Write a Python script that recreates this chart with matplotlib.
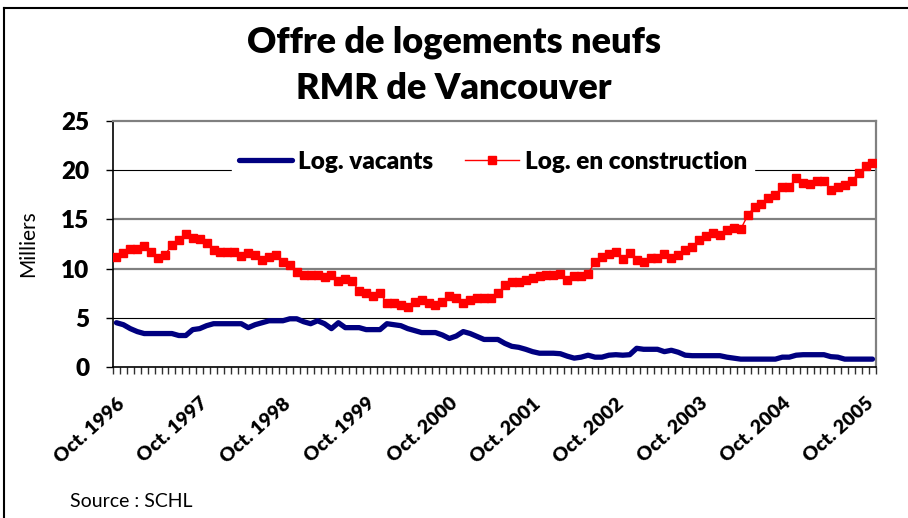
import matplotlib
matplotlib.use("Agg")
import matplotlib.pyplot as plt
from matplotlib.lines import Line2D

# monthly data, Oct. 1996 onward (thousands of units)
vacants = [
    4.5, 4.3, 3.9, 3.6, 3.4, 3.4, 3.4, 3.4, 3.4, 3.2, 3.2, 3.8,
    3.9, 4.2, 4.4, 4.4, 4.4, 4.4, 4.4, 4.0, 4.3, 4.5, 4.7, 4.7,
    4.7, 4.9, 4.9, 4.6, 4.4, 4.7, 4.4, 3.9, 4.5, 4.0, 4.0, 4.0,
    3.8, 3.8,
    3.8, 4.4, 4.3, 4.2, 3.9, 3.7, 3.5, 3.5, 3.5, 3.25, 2.9, 3.15,
    3.6, 3.4, 3.1, 2.8, 2.8, 2.8, 2.4, 2.1, 2.0, 1.8, 1.56, 1.4,
    1.4, 1.4, 1.35, 1.1, 0.9, 1.0, 1.2, 1.0, 1.0, 1.2, 1.25, 1.2,
    1.25,
    1.9, 1.8, 1.8, 1.8, 1.56, 1.7, 1.5, 1.2, 1.15, 1.15, 1.15, 1.15,
    1.15, 1.0, 0.9, 0.8, 0.8, 0.8, 0.8, 0.8, 0.8, 1.0, 1.0, 1.2,
    1.25, 1.25, 1.25, 1.25, 1.05, 1.0, 0.8, 0.8, 0.8, 0.8, 0.8,
]
construction = [
    11.2, 11.6, 12.0, 12.0, 12.3, 11.7, 11.1, 11.4, 12.4, 12.9, 13.5, 13.1,
    13.0, 12.6, 11.9, 11.7, 11.7, 11.7, 11.3, 11.6, 11.4, 10.9, 11.2, 11.4,
    10.7, 10.4, 9.7, 9.3, 9.3, 9.3, 9.1, 9.3, 8.7, 8.9, 8.7, 7.7,
    7.5, 7.2,
    7.5, 6.5, 6.5, 6.3, 6.1, 6.6, 6.8, 6.5, 6.3, 6.6, 7.2, 7.0,
    6.5, 6.8, 7.0, 7.0, 7.0, 7.5, 8.3, 8.6, 8.6, 8.8, 9.0, 9.2,
    9.4, 9.4, 9.5, 8.8, 9.2, 9.2, 9.5, 10.7, 11.2, 11.5, 11.7, 11.0,
    11.6,
    10.9, 10.7, 11.1, 11.1, 11.5, 11.1, 11.4, 11.9, 12.2, 12.9, 13.3, 13.6,
    13.4, 13.9, 14.1, 14.0, 15.4, 16.3, 16.6, 17.2, 17.5, 18.3, 18.3, 19.2,
    18.7, 18.6, 18.9, 18.9, 18.0, 18.3, 18.5, 18.9, 19.7, 20.4, 20.7,
]
tick_labels = ["Oct. 1996", "Oct. 1997", "Oct. 1998", "Oct. 1999", "Oct. 2000",
               "Oct. 2001", "Oct. 2002", "Oct. 2003", "Oct. 2004", "Oct. 2005"]

plt.rcParams["font.family"] = ["Lato", "DejaVu Sans"]

n = len(construction)
x = list(range(n))

fig = plt.figure(figsize=(9.08, 5.18), dpi=100)
ax = fig.add_axes([0.1244, 0.2915, 0.8403, 0.4749])

# outer frame (left and top edges visible)
fig.add_artist(Line2D([0.0045, 0.0045], [0, 0.985], transform=fig.transFigure,
                      color="black", lw=1.5))
fig.add_artist(Line2D([0.0045, 1], [0.985, 0.985], transform=fig.transFigure,
                      color="black", lw=1.5))

# gridlines
for v, c, w in [(5, "black", 0.8), (10, "#808080", 1.6), (15, "#808080", 1.6), (20, "black", 0.8)]:
    ax.axhline(v, color=c, lw=w, zorder=1)

ax.plot(x, vacants, color="#000080", lw=3.8, solid_capstyle="round",
        label="Log. vacants", zorder=3)
ax.plot(x, construction, color="#ff0000", lw=1, marker="s", markersize=6.3,
        label="Log. en construction", zorder=3)

ax.set_xlim(-0.5, n - 0.5)
ax.set_ylim(0, 25)
ax.set_yticks([0, 5, 10, 15, 20, 25])
ax.tick_params(axis="y", labelsize=17.5, length=5, width=1, pad=12)
for t in ax.get_yticklabels():
    t.set_fontweight("heavy")

ax.set_xticks([i - 0.5 for i in range(n + 1)], minor=True)
ax.set_xticks(list(range(0, n, 12)))
ax.set_xticklabels(tick_labels, rotation=42, ha="right", va="top",
                   rotation_mode="anchor", fontsize=14, fontweight="heavy")
ax.tick_params(axis="x", which="major", length=0, pad=20)
ax.tick_params(axis="x", which="minor", length=5, width=1, color="#303030")

for s in ["top", "right"]:
    ax.spines[s].set_color("#808080")
    ax.spines[s].set_linewidth(1.6)
for s in ["left", "bottom"]:
    ax.spines[s].set_color("black")
    ax.spines[s].set_linewidth(1.2)

ax.set_ylabel("Milliers", fontsize=15)
ax.yaxis.set_label_coords(-0.098, 0.5)

leg = ax.legend(loc="center", bbox_to_anchor=(0.498, 0.835), ncol=2,
                frameon=True, fancybox=False, edgecolor="white", facecolor="white",
                framealpha=1, handlelength=2.2, columnspacing=1.3,
                handletextpad=0.25, borderpad=0.3,
                prop={"size": 17.5, "weight": "heavy"})
leg.set_zorder(2)

fig.text(0.5, 0.919, "Offre de logements neufs", ha="center", va="center",
         fontsize=26, fontweight="heavy")
fig.text(0.5, 0.830, "RMR de Vancouver", ha="center", va="center",
         fontsize=26, fontweight="heavy")
fig.text(0.077, 0.031, "Source : SCHL", ha="left", va="center", fontsize=14)

fig.savefig("out.png", dpi=100)
